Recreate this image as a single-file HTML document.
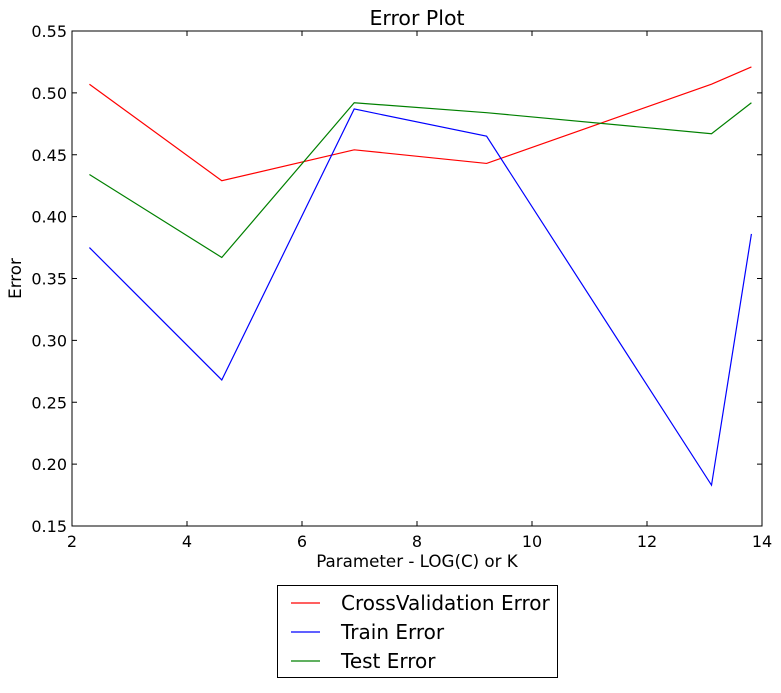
<!DOCTYPE html>
<html><head><meta charset="utf-8"><style>
body{margin:0;background:#fff;}
svg text{font-family:"DejaVu Sans","Liberation Sans",sans-serif;}
</style></head><body>
<svg id="chart" width="781" height="688" xmlns="http://www.w3.org/2000/svg">
</svg>
<script>
const xValues=[2.303,4.605,6.908,9.210,13.122,13.816];
const crossValError=[0.507,0.429,0.454,0.443,0.507,0.521];
const trainError=[0.375,0.268,0.487,0.465,0.183,0.386];
const testError=[0.434,0.367,0.492,0.484,0.467,0.492];
const xTicks=[2,4,6,8,10,12,14];
const yTicks=[0.15,0.20,0.25,0.30,0.35,0.40,0.45,0.50,0.55];
const seriesNames=["CrossValidation Error","Train Error","Test Error"];

const L=72,R=762,T=31,B=526;
const sx=v=>L+(v-2)/(14-2)*(R-L);
const sy=v=>B-(v-0.15)/(0.55-0.15)*(B-T);
const svg=document.getElementById('chart');
const NS="http://www.w3.org/2000/svg";
function mk(tag,attrs,parent){const e=document.createElementNS(NS,tag);for(const k in attrs)e.setAttribute(k,attrs[k]);(parent||svg).appendChild(e);return e;}

const frame=mk('rect',{x:L,y:T,width:R-L,height:B-T,fill:'none',stroke:'#000','stroke-width':1});



xTicks.forEach(t=>{
  const x=sx(t);
  const g=mk('g',{});
  
  
  mk('line',{x1:x,x2:x,y1:B,y2:B-5,stroke:'#000'},g);
  mk('line',{x1:x,x2:x,y1:T,y2:T+5,stroke:'#000'},g);
  const tx=mk('text',{x:x,y:B+21,'text-anchor':'middle','font-size':16},g);tx.textContent=t;
});
yTicks.forEach(t=>{
  const y=sy(t);
  const g=mk('g',{});
  
  
  mk('line',{x1:L,x2:L+5,y1:y,y2:y,stroke:'#000'},g);
  mk('line',{x1:R,x2:R-5,y1:y,y2:y,stroke:'#000'},g);
  const tx=mk('text',{x:L-5,y:y+6,'text-anchor':'end','font-size':16},g);tx.textContent=t.toFixed(2);
});

const series=[[crossValError,'#ff0000','crossvalidation-line'],[trainError,'#0000ff','train-line'],[testError,'#008000','test-line']];
series.forEach(([vals,c,n])=>{
  const p=mk('polyline',{points:vals.map((v,i)=>sx(xValues[i])+','+sy(v)).join(' '),fill:'none',stroke:c,'stroke-width':1.2});
  
  
});

const title=mk('text',{x:(L+R)/2,y:25,'text-anchor':'middle','font-size':20.5});title.textContent='Error Plot';


const xl=mk('text',{x:(L+R)/2,y:567,'text-anchor':'middle','font-size':16.7});xl.textContent='Parameter - LOG(C) or K';


const yl=mk('text',{x:21,y:(T+B)/2,'text-anchor':'middle','font-size':16.7,transform:'rotate(-90 21 '+(T+B)/2+')'});yl.textContent='Error';



const lg=mk('g',{});


mk('rect',{x:277.5,y:585.5,width:280,height:92,fill:'#fff',stroke:'#000'},lg);
seriesNames.forEach((nm,i)=>{
  const y=603+i*29;
  const e=mk('g',{},lg);
  
  
  mk('line',{x1:291,x2:320,y1:y,y2:y,stroke:series[i][1],'stroke-width':1.2},e);
  const t=mk('text',{x:341,y:y+7,'font-size':20},e);t.textContent=nm;
});
</script>
</body></html>
